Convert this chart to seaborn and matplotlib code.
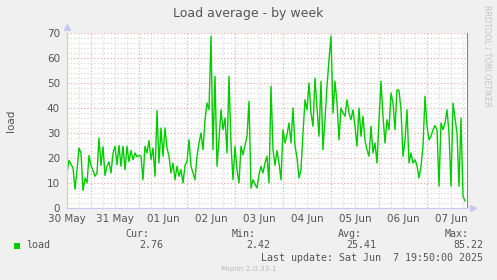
import numpy as np
import pandas as pd
import matplotlib
matplotlib.use("Agg")
import matplotlib.pyplot as plt
import matplotlib.dates as mdates
from matplotlib.ticker import MultipleLocator, FuncFormatter, NullFormatter
from matplotlib.patches import Rectangle
import seaborn as sns

# ---------------- data ----------------
start_time = "2025-05-30 11:50"
end_time = "2025-06-07 19:50"

load_values = [
    14, 19, 17.5, 16, 7.5, 15, 24, 22, 7, 12,
    10, 21, 17, 15, 12.7, 14, 28, 17, 24.5, 13,
    16.7, 18.5, 14, 22, 24.7, 17.3, 25, 16.7, 24.7, 15.3,
    24.7, 18.5, 23, 19.3, 22, 20.5, 21, 20.7, 11.3, 24.7,
    22, 27, 19.3, 24, 12.7, 39, 18, 32, 20.7, 32,
    24, 20.7, 14, 18, 11.3, 16.7, 12.7, 15.3, 10, 17,
    18.7, 27.3, 16.7, 14, 11.3, 20.7, 26, 30, 23.3, 35.3,
    42, 39.3, 68.7, 23.3, 52.7, 16.7, 27.3, 39.3, 31.3, 36,
    22, 52.7, 25.3, 11.3, 24.7, 15.3, 10, 24.7, 21.3, 25,
    28.7, 42.7, 8, 11.3, 9.5, 8, 13.3, 16.7, 14, 18,
    20.7, 10, 48.7, 23.3, 17, 23, 18, 11.3, 31.3, 26,
    29.3, 34, 26, 40, 25, 20, 12, 15.3, 30, 43.3,
    39.3, 50, 38, 32.7, 52, 40, 28.7, 50.7, 23.3, 35.3,
    48.7, 59.3, 68.7, 38, 50.7, 42, 27.3, 40, 38, 36.7,
    43.3, 38, 35.3, 39.3, 32.7, 24.7, 40, 28.7, 36.7, 27,
    23.3, 20.7, 32.7, 22, 26, 18, 35, 50.7, 36.7, 26,
    35.3, 31.3, 46, 42, 31.3, 47.3, 47, 39.3, 20.7, 27,
    39.3, 18, 22, 18, 19.3, 17, 12, 16.7, 24.7, 44.7,
    32.7, 27.3, 28.7, 31.3, 33, 31.3, 8.7, 34, 31.3, 34,
    39.3, 30, 8.7, 42, 36, 30, 8.7, 36, 4.7, 2.76,
]

legend_labels = ["Cur:", "Min:", "Avg:", "Max:"]
legend_values = ["2.76", "2.42", "25.41", "85.22"]
series_name = "load"
title_text = "Load average - by week"
last_update = "Last update: Sat Jun  7 19:50:00 2025"
footer_text = "Munin 2.0.33-1"
side_text = "RRDTOOL / TOBI OETIKER"

times = pd.date_range(start_time, periods=len(load_values), freq="h")
df = pd.DataFrame({"time": times, "load": load_values})

# ---------------- style ----------------
sns.set_theme(style="white")
plt.rcParams['font.family'] = ['DejaVu Sans']

W, H = 497, 280
fig = plt.figure(figsize=(W / 100, H / 100), dpi=100, facecolor="#f0f0f0")
ax = fig.add_axes([67 / W, 72 / H, 400 / W, 175 / H])
ax.set_facecolor("white")

sns.lineplot(data=df, x="time", y="load", color="#00cc00", linewidth=1.0, ax=ax)

ax.set_xlim(pd.Timestamp(start_time), pd.Timestamp(end_time))
ax.set_ylim(0, 70)

# y grid
ax.yaxis.set_major_locator(MultipleLocator(10))
ax.yaxis.set_minor_locator(MultipleLocator(2))
# x grid: red at midnight, grey every 6 h, labels at noon
ax.xaxis.set_major_locator(mdates.DayLocator())
ax.xaxis.set_major_formatter(NullFormatter())
ax.xaxis.set_minor_locator(mdates.HourLocator(byhour=[6, 12, 18]))


def noon_label(x, pos):
    d = mdates.num2date(x)
    return d.strftime("%d %b") if d.hour == 12 else ""


ax.xaxis.set_minor_formatter(FuncFormatter(noon_label))

ax.grid(which="minor", color="#d4d4d4", linestyle=(0, (1, 2)), linewidth=0.8)
ax.grid(which="major", color="#f2a0a0", linestyle=(0, (1, 2)), linewidth=0.8)
ax.set_axisbelow(True)

ax.tick_params(axis="both", which="both", length=0, colors="#555555", labelsize=7.5)
ax.tick_params(axis="y", pad=5)
ax.tick_params(axis="x", which="minor", pad=4)

ax.spines["top"].set_visible(False)
ax.spines["left"].set_color("#c8c8f0")
ax.spines["bottom"].set_color("#c8c8f0")
ax.spines["right"].set_color("#888888")
for s in ["left", "bottom", "right"]:
    ax.spines[s].set_linewidth(0.8)

# axis arrows
ax.plot([0], [1.035], marker="^", color="#c8c8f0", markersize=4, transform=ax.transAxes, clip_on=False)
ax.plot([1.015], [0], marker=">", color="#c8c8f0", markersize=4, transform=ax.transAxes, clip_on=False)

ax.set_xlabel("")
ax.set_ylabel("load", color="#555555", fontsize=7.5, labelpad=22)

# title
fig.text(248 / W, 1 - 14 / H, title_text, ha="center", va="center", fontsize=9, color="#555555")

# side text
fig.text(487 / W, 1 - 5 / H, side_text, rotation=270, ha="center", va="top", fontsize=5.8, color="#c4c4c4")

# legend block
mono = "DejaVu Sans Mono"
label_right = [149, 256, 362, 469]
value_right = [163, 270, 376, 483]
for lab, xr in zip(legend_labels, label_right):
    fig.text(xr / W, 1 - 234 / H, lab, ha="right", va="center", family=mono, fontsize=7.2, color="#555555")
for val, xr in zip(legend_values, value_right):
    fig.text(xr / W, 1 - 245 / H, val, ha="right", va="center", family=mono, fontsize=7.2, color="#555555")

fig.patches.append(Rectangle((14 / W, 1 - 249 / H), 6 / W, 6 / H, transform=fig.transFigure,
                             facecolor="#00cc00", edgecolor="none"))
fig.text(26 / W, 1 - 245 / H, series_name, ha="left", va="center", family=mono, fontsize=7.2, color="#555555")
fig.text(483 / W, 1 - 258 / H, last_update, ha="right", va="center", family=mono, fontsize=7.2, color="#555555")
fig.text(249 / W, 1 - 269 / H, footer_text, ha="center", va="center", fontsize=5.3, color="#bbbbbb")

fig.savefig("out.png", dpi=100, facecolor=fig.get_facecolor())
